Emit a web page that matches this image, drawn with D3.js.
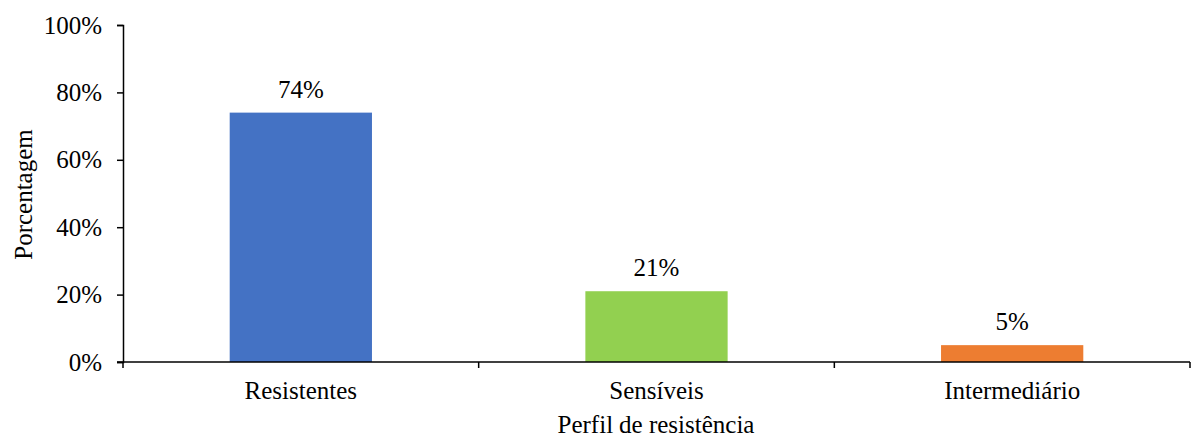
<!DOCTYPE html>
<html>
<head>
<meta charset="utf-8">
<script src="https://cdn.jsdelivr.net/npm/d3@7"></script>
<style>
  html, body { margin: 0; padding: 0; background: #fff; }
  svg { display: block; }
</style>
</head>
<body>
<svg id="chart" width="1192" height="437"></svg>
<script>
// Resistance profile shares
const categories = ["Resistentes", "Sensíveis", "Intermediário"];
const values = [0.74, 0.21, 0.05];
const valueLabels = ["74%", "21%", "5%"];
const colors = ["#4472C4", "#92D050", "#ED7D31"];
const yTicks = [0, 0.2, 0.4, 0.6, 0.8, 1.0];

const FONT = '"Liberation Serif", "Times New Roman", serif';
const fontSize = "25px";

const svg = d3.select("#chart");
const W = 1192, H = 437;
const x0 = 123, x1 = 1190;
const y0 = 362, y1 = 25;

const x = d3.scaleBand().domain(categories).range([x0, x1])
  .paddingInner(0.6).paddingOuter(0.3);
const y = d3.scaleLinear().domain([0, 1]).range([y0, y1]);

function styleText(sel) {
  return sel.style("font-family", FONT).style("font-size", fontSize).attr("fill", "#000");
}

// bars
svg.selectAll("rect.bar").data(categories).join("rect")
  .attr("class", "bar")
  .attr("x", d => x(d))
  .attr("width", x.bandwidth())
  .attr("y", (d, i) => y(values[i]))
  .attr("height", (d, i) => y(0) - y(values[i]))
  .attr("fill", (d, i) => colors[i]);

// value labels above bars
svg.selectAll("text.val").data(categories).join("text")
  .attr("class", "val")
  .attr("x", d => x(d) + x.bandwidth() / 2)
  .attr("y", (d, i) => y(values[i]) - 15)
  .attr("text-anchor", "middle")
  .call(styleText)
  .text((d, i) => valueLabels[i]);

// y axis
const yAxis = d3.axisLeft(y).tickValues(yTicks).tickFormat(d3.format(".0%"))
  .tickSize(6).tickPadding(15);
const gy = svg.append("g").attr("transform", `translate(${x0},0)`).call(yAxis);
gy.select(".domain").attr("stroke", "#000").attr("stroke-width", 1.5);
gy.selectAll(".tick line").attr("stroke", "#000").attr("stroke-width", 1.5);
gy.selectAll(".tick text").call(styleText);

// x axis: baseline with tick marks at category boundaries
const step = x.step();
const bounds = d3.range(categories.length + 1).map(i => x0 + i * step);
svg.append("line").attr("x1", x0 - 6).attr("x2", x1).attr("y1", y0).attr("y2", y0)
  .attr("stroke", "#000").attr("stroke-width", 1.5);
svg.selectAll("line.xt").data(bounds).join("line")
  .attr("class", "xt")
  .attr("x1", d => d).attr("x2", d => d)
  .attr("y1", y0).attr("y2", y0 + 6)
  .attr("stroke", "#000").attr("stroke-width", 1.5);

svg.selectAll("text.cat").data(categories).join("text")
  .attr("class", "cat")
  .attr("x", d => x(d) + x.bandwidth() / 2)
  .attr("y", y0 + 37)
  .attr("text-anchor", "middle")
  .call(styleText)
  .text(d => d);

// axis titles
const xt = svg.append("text")
  .attr("x", 656).attr("y", 433)
  .attr("text-anchor", "middle")
  .call(styleText);
xt.append("tspan").text("Perfil");
xt.append("tspan").attr("dx", 6).text("de resistência");

svg.append("text")
  .attr("transform", `translate(32,${(y0 + y1) / 2 + 1}) rotate(-90)`)
  .attr("text-anchor", "middle")
  .call(styleText)
  .text("Porcentagem");
</script>
</body>
</html>
